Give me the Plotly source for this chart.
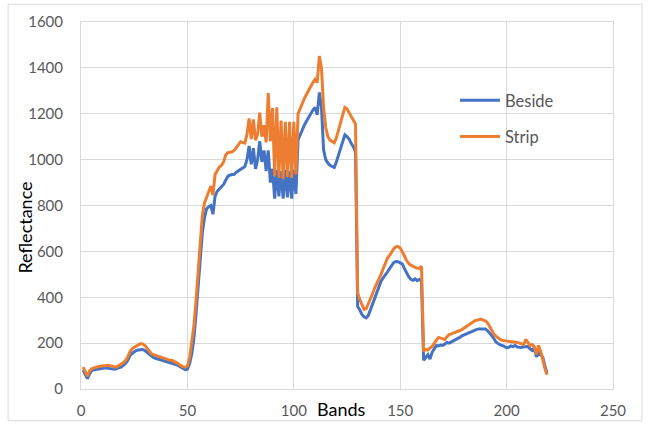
import plotly.graph_objects as go

bands = list(range(1, 220))

beside = [
    82, 62, 45, 65, 80, 84, 86, 88, 90, 91,
    92, 91, 90, 89, 88, 86, 90, 94, 96, 104,
    112, 125, 145, 155, 163, 168, 170, 172, 172, 168,
    160, 151, 144, 138, 134, 131, 128, 126, 124, 122,
    119, 116, 113, 110, 106, 100, 94, 88, 84, 86,
    110, 150, 215, 320, 440, 560, 680, 745, 785, 795,
    800, 762, 840, 862, 872, 882, 892, 910, 927, 933,
    935, 936, 945, 952, 958, 965, 970, 1000, 1060, 980,
    1050, 960, 1000, 1080, 990, 1040, 950, 1040, 900, 960,
    830, 955, 840, 950, 830, 955, 835, 950, 830, 955,
    850, 1086, 1110, 1135, 1151, 1168, 1185, 1200, 1216, 1228,
    1195, 1293, 1230, 1043, 1000, 985, 975, 970, 966, 990,
    1020, 1050, 1085, 1108, 1100, 1090, 1070, 1056, 1035, 360,
    345, 325, 315, 310, 320, 345, 375, 400, 427, 450,
    470, 485, 496, 510, 525, 540, 552, 556, 555, 550,
    545, 525, 505, 490, 478, 474, 480, 472, 478, 470,
    125, 140, 150, 130, 160, 175, 190, 188, 192, 190,
    198, 203, 200, 205, 210, 215, 218, 225, 232, 236,
    240, 245, 250, 254, 258, 260, 262, 263, 264, 262,
    255, 245, 233, 220, 205, 198, 192, 190, 185, 180,
    182, 188, 185, 190, 183, 182, 181, 184, 186, 185,
    175, 168, 180, 140, 158, 150, 138, 100, 70,
]

strip = [
    95, 73, 56, 78, 88, 92, 95, 97, 99, 100,
    101, 103, 103, 101, 98, 95, 98, 103, 108, 115,
    125, 140, 162, 175, 182, 187, 192, 198, 196, 190,
    178, 165, 155, 150, 147, 143, 139, 135, 132, 129,
    127, 125, 124, 120, 114, 108, 102, 97, 95, 100,
    135, 195, 270, 380, 520, 650, 755, 810, 840, 860,
    885, 845, 935, 955, 968, 975, 990, 1020, 1030, 1032,
    1034, 1040, 1055, 1065, 1078, 1075, 1072, 1110, 1180, 1090,
    1175, 1085, 1110, 1205, 1100, 1150, 1075, 1290, 1080, 1225,
    930, 1228, 920, 1170, 915, 1165, 925, 1165, 920, 1165,
    935, 1200, 1225, 1250, 1267, 1285, 1305, 1320, 1336, 1350,
    1336, 1452, 1400, 1228, 1140, 1100, 1085, 1078, 1073, 1095,
    1125, 1160, 1195, 1228, 1222, 1205, 1185, 1172, 1155, 420,
    390, 365, 348, 350, 370, 390, 415, 440, 460, 475,
    500, 525, 550, 570, 582, 600, 612, 620, 621, 615,
    600, 580, 560, 547, 540, 534, 530, 527, 526, 535,
    165, 172, 170, 178, 185, 200, 212, 225, 222, 218,
    216, 228, 237, 240, 243, 246, 250, 255, 259, 265,
    272, 280, 285, 292, 297, 300, 302, 305, 300, 297,
    289, 272, 259, 240, 230, 222, 216, 212, 211, 211,
    208, 207, 205, 204, 203, 200, 198, 194, 216, 200,
    190, 194, 185, 151, 190, 165, 125, 90, 62,
]

x_ticks = [0, 50, 100, 150, 200, 250]
y_ticks = [0, 200, 400, 600, 800, 1000, 1200, 1400, 1600]

FONT = "Lato, 'Open Sans', sans-serif"
GRID = "#d9d9d9"

fig = go.Figure()
fig.add_trace(go.Scatter(x=bands, y=beside, mode="lines", name="Beside",
                         line=dict(color="#4472C4", width=3), legendgroup="a"))
fig.add_trace(go.Scatter(x=bands, y=strip, mode="lines", name="Strip",
                         line=dict(color="#ED7D31", width=3), legendgroup="b"))

fig.update_layout(
    width=651, height=431,
    margin=dict(l=81, r=38, t=21, b=39),
    paper_bgcolor="white", plot_bgcolor="white",
    font=dict(family=FONT, size=15, color="#595959"),
    showlegend=True,
    legend=dict(x=0.703, y=0.834, xanchor="left", yanchor="top",
                bgcolor="rgba(0,0,0,0)", font=dict(size=16.5, color="#595959"),
                tracegroupgap=12, itemwidth=40),
    xaxis=dict(range=[0, 250], tickvals=x_ticks, showgrid=True, gridcolor=GRID,
               gridwidth=1, showline=True, linecolor=GRID, mirror=True,
               zeroline=False, ticks="", ticklabelstandoff=8,
               tickfont=dict(size=15, color="#595959")),
    yaxis=dict(range=[0, 1600], tickvals=y_ticks, showgrid=True, gridcolor=GRID,
               gridwidth=1, showline=True, linecolor=GRID, mirror=True,
               zeroline=False, ticks="", ticklabelstandoff=14,
               tickfont=dict(size=15, color="#595959")),
    annotations=[
        dict(text="Bands", x=0.489, y=-0.054, xref="paper", yref="paper",
             showarrow=False, font=dict(size=18, color="#000000"),
             xanchor="center", yanchor="middle"),
        dict(text="Reflectance", x=-0.107, y=0.44, xref="paper", yref="paper",
             showarrow=False, textangle=-90, font=dict(size=18, color="#000000"),
             xanchor="center", yanchor="middle"),
    ],
    shapes=[
        dict(type="rect", xref="paper", yref="paper", x0=-0.137, x1=1.0545,
             y0=-0.0863, y1=1.0485, line=dict(color=GRID, width=1),
             fillcolor="rgba(0,0,0,0)", layer="below"),
    ],
)

fig.write_html("out.html")
